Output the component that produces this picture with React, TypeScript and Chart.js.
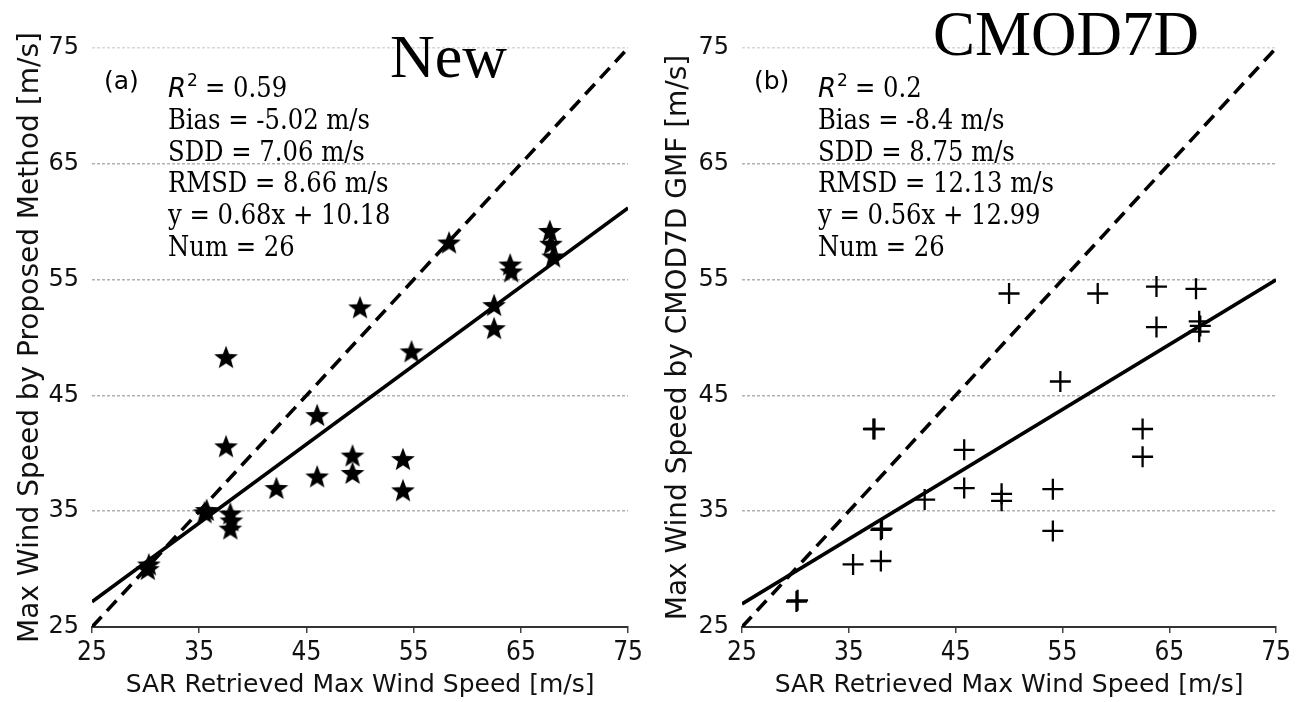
import React, { useEffect, useRef } from "react";
import { Chart, registerables } from "chart.js";
Chart.register(...registerables);

// ---------- data ----------
const axisTicks = [25, 35, 45, 55, 65, 75];
const xTitle = "SAR Retrieved Max Wind Speed [m/s]";

const leftSarX = [30.2, 30.3, 35.5, 35.7, 37.5, 37.5, 37.9, 37.9, 38.0, 42.2, 46.0, 46.0, 49.3, 49.3, 50.0, 54.0, 54.0, 54.8, 58.3, 62.5, 62.5, 64.0, 64.1, 67.7, 67.8, 68.0];
const leftNewY = [30.0, 30.4, 34.9, 35.1, 48.3, 40.6, 34.8, 33.5, 34.2, 37.0, 43.3, 38.0, 39.8, 38.3, 52.6, 39.5, 36.8, 48.8, 58.2, 52.8, 50.8, 56.3, 55.7, 59.2, 58.1, 57.0];

const rightSarX = [30.1, 30.2, 35.4, 37.3, 37.4, 38.0, 38.0, 38.1, 42.1, 45.8, 45.8, 49.3, 49.3, 50.0, 54.1, 54.1, 54.8, 58.3, 62.5, 62.5, 63.8, 63.8, 67.5, 67.8, 67.8, 67.9];
const rightCmodY = [27.2, 27.3, 30.4, 42.1, 42.1, 33.4, 30.7, 33.5, 36.0, 40.3, 37.0, 36.5, 35.9, 53.8, 36.9, 33.3, 46.2, 53.8, 42.1, 39.7, 54.4, 50.9, 54.2, 51.4, 50.5, 51.0];

const leftFitCoef = [0.68, 10.18];
const rightFitCoef = [0.56, 12.99];

const leftR2 = "0.59";
const rightR2 = "0.2";
const leftStats = ["Bias = -5.02 m/s", "SDD = 7.06 m/s", "RMSD = 8.66 m/s", "y = 0.68x + 10.18", "Num = 26"];
const rightStats = ["Bias = -8.4 m/s", "SDD = 8.75 m/s", "RMSD = 12.13 m/s", "y = 0.56x + 12.99", "Num = 26"];

const SERIF = '"DejaVu Serif Condensed", "DejaVu Serif", serif';

// ---------- helpers ----------
function makeStar(size: number): HTMLCanvasElement {
  const c = document.createElement("canvas");
  c.width = size;
  c.height = size;
  const g = c.getContext("2d")!;
  const cx = size / 2, cy = size / 2 + 1;
  const R = size / 2 - 0.5, r = R * 0.42;
  g.beginPath();
  for (let i = 0; i < 10; i++) {
    const ang = -Math.PI / 2 + (i * Math.PI) / 5;
    const rad = i % 2 === 0 ? R : r;
    const px = cx + rad * Math.cos(ang);
    const py = cy + rad * Math.sin(ang);
    if (i === 0) g.moveTo(px, py); else g.lineTo(px, py);
  }
  g.closePath();
  g.fillStyle = "#000";
  g.fill();
  return c;
}

type PanelProps = {
  xs: number[];
  ys: number[];
  fit: number[];
  marker: "star" | "cross";
  yTitle: string;
  label: string;
  r2: string;
  stats: string[];
  bigTitle: string;
  bigTitleX: number;
  bigTitleY: number;
  bigTitleSize: number;
  yAxisWidth: number;
  padRight: number;
  labelX: number;
  statsX: number;
};

function Panel(p: PanelProps) {
  const ref = useRef<HTMLCanvasElement>(null);
  useEffect(() => {
    const canvas = ref.current!;
    const pts = p.xs.map((x, i) => ({ x, y: p.ys[i] }));
    const lo = axisTicks[0], hi = axisTicks[axisTicks.length - 1];
    const fitLine = [
      { x: lo, y: p.fit[0] * lo + p.fit[1] },
      { x: hi, y: p.fit[0] * hi + p.fit[1] },
    ];
    const oneToOne = [{ x: lo, y: lo }, { x: hi, y: hi }];

    const textPlugin = {
      id: "panelText",
      afterDraw(chart: any) {
        const ctx = chart.ctx as CanvasRenderingContext2D;
        ctx.save();
        ctx.fillStyle = "#000";
        ctx.textBaseline = "alphabetic";
        ctx.textAlign = "left";
        ctx.font = '25px "DejaVu Sans"';
        ctx.fillText(p.label, p.labelX, 89);
        ctx.font = 'italic 26px "DejaVu Sans"';
        ctx.fillText("R", p.statsX, 97);
        ctx.font = '17px "DejaVu Sans"';
        ctx.fillText("2", p.statsX + 19, 86);
        ctx.font = "27px " + SERIF;
        ctx.fillText("= " + p.r2, p.statsX + 37, 97);
        p.stats.forEach((s, i) => ctx.fillText(s, p.statsX, 129 + i * 31.7));
        ctx.font = p.bigTitleSize + 'px "Liberation Serif"';
        ctx.fillText(p.bigTitle, p.bigTitleX, p.bigTitleY);
        ctx.restore();
      },
    };

    const star = makeStar(26);
    const chart = new Chart(canvas, {
      type: "scatter",
      data: {
        datasets: [
          {
            data: pts,
            pointStyle: p.marker === "star" ? (star as any) : "cross",
            pointRadius: p.marker === "star" ? 12 : 10.5,
            borderColor: "#000",
            backgroundColor: "#000",
            borderWidth: p.marker === "star" ? 1 : 2.3,
            showLine: false,
          } as any,
          {
            data: fitLine,
            showLine: true,
            borderColor: "#000",
            borderWidth: 3.6,
            pointRadius: 0,
          } as any,
          {
            data: oneToOne,
            showLine: true,
            borderColor: "#000",
            borderWidth: 3.6,
            borderDash: [14, 8],
            pointRadius: 0,
          } as any,
        ],
      },
      options: {
        responsive: false,
        animation: false,
        devicePixelRatio: 1,
        layout: { padding: { top: 48, right: p.padRight, left: 0, bottom: 0 } },
        plugins: { legend: { display: false }, tooltip: { enabled: false } },
        scales: {
          x: {
            type: "linear",
            min: lo,
            max: hi,
            afterBuildTicks: (s: any) => { s.ticks = axisTicks.map((v) => ({ value: v })); },
            afterFit: (s: any) => { s.height = 75; },
            ticks: {
              color: "#111",
              font: { family: '"DejaVu Sans Condensed", "DejaVu Sans"', size: 26 },
              padding: 5,
              maxRotation: 0,
            },
            grid: { display: true, drawOnChartArea: false, drawTicks: true, tickLength: 6, color: "#444", lineWidth: 1.5 },
            border: { display: true, color: "#333", width: 2 },
            title: {
              display: true,
              text: xTitle,
              color: "#111",
              font: { family: "DejaVu Sans", size: 25, lineHeight: 1 },
              padding: { top: 0, bottom: 4 },
            },
          },
          y: {
            type: "linear",
            min: lo,
            max: hi,
            afterBuildTicks: (s: any) => { s.ticks = axisTicks.map((v) => ({ value: v })); },
            afterFit: (s: any) => { s.width = p.yAxisWidth; },
            ticks: {
              color: "#111",
              font: { family: "DejaVu Sans", size: 24 },
              padding: 13,
            },
            grid: {
              display: true,
              drawOnChartArea: true,
              drawTicks: false,
              color: (c: any) => (c.tick && c.tick.value === lo ? "rgba(0,0,0,0)" : c.tick && c.tick.value === hi ? "#d8d8d8" : "#b0b0b0"),
              lineWidth: 1.5,
            },
            border: { display: false, dash: [3, 2] },
            title: {
              display: true,
              text: p.yTitle,
              color: "#111",
              font: { family: "DejaVu Sans", size: 28, lineHeight: 1 },
              padding: { top: 17, bottom: 0 },
            },
          },
        },
      },
      plugins: [textPlugin],
    } as any);
    return () => chart.destroy();
  }, []);
  return <canvas ref={ref} width={648} height={702} style={{ display: "block", width: 648, height: 702 }} />;
}

export default function App() {
  return (
    <div style={{ position: "absolute", left: 0, top: 0, width: 1296, height: 702, background: "#fff", display: "flex" }}>
      <Panel
        xs={leftSarX}
        ys={leftNewY}
        fit={leftFitCoef}
        marker="star"
        yTitle="Max Wind Speed by Proposed Method [m/s]"
        label="(a)"
        r2={leftR2}
        stats={leftStats}
        bigTitle="New"
        bigTitleX={390}
        bigTitleY={77}
        bigTitleSize={62}
        yAxisWidth={92}
        padRight={16}
        labelX={104}
        statsX={168}
      />
      <Panel
        xs={rightSarX}
        ys={rightCmodY}
        fit={rightFitCoef}
        marker="cross"
        yTitle="Max Wind Speed by CMOD7D GMF [m/s]"
        label="(b)"
        r2={rightR2}
        stats={rightStats}
        bigTitle="CMOD7D"
        bigTitleX={285}
        bigTitleY={55}
        bigTitleSize={63}
        yAxisWidth={94}
        padRight={13}
        labelX={106}
        statsX={170}
      />
    </div>
  );
}
